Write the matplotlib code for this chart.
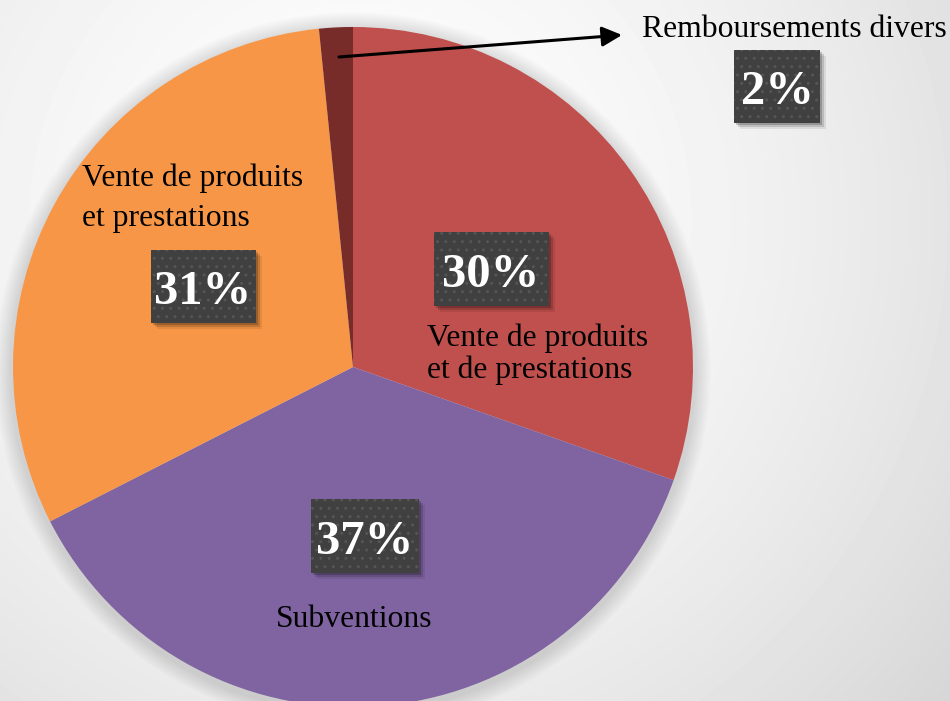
import numpy as np
import matplotlib.pyplot as plt
from matplotlib.patches import Rectangle, Circle

W, H = 950, 701

# shares (clockwise from 12 o'clock)
shares = [30.4, 37.1, 30.9, 1.6]
colors = ['#C0504D', '#8064A2', '#F79646', '#772C2A']
pct_labels = ['30%', '37%', '31%', '2%']
names = ['Vente de produits\net de prestations', 'Subventions',
         'Vente de produits\net prestations', 'Remboursements divers']

fig = plt.figure(figsize=(9.5, 7.01), dpi=100)
ax = fig.add_axes([0, 0, 1, 1])
ax.set_xlim(0, W)
ax.set_ylim(H, 0)
ax.axis('off')

# background gradient
yy, xx = np.mgrid[0:H, 0:W]
d = np.hypot(xx - 360, yy - 220) / 800
bg = np.clip(0.995 - 0.17 * d ** 1.7, 0, 1)
ax.imshow(bg, cmap='gray', vmin=0, vmax=1, extent=(0, W, H, 0), zorder=0)

cx, cy, r = 353, 367, 340

# soft shadow around the pie
for k in range(16):
    ax.add_patch(Circle((cx, cy + 3), r + 18 - k, color='black', alpha=0.009,
                        lw=0, zorder=1))

ax.pie(shares, colors=colors, startangle=-90, counterclock=True,
       center=(cx, cy), radius=r, frame=True,
       wedgeprops=dict(linewidth=0, zorder=2))
ax.set_xlim(0, W)
ax.set_ylim(H, 0)
ax.set_aspect('equal')
ax.axis('off')

font = 'Liberation Serif'

# percentage boxes: (center x, center y, width, height)
boxes = [(491, 269, 115, 74), (365, 536, 108, 74), (203, 286, 105, 73), (777, 86, 86, 73)]
for (bx, by, bw, bh), lab in zip(boxes, pct_labels):
    for off, a in [(6, 0.08), (4, 0.14), (2, 0.2)]:
        ax.add_patch(Rectangle((bx - bw / 2 + off, by - bh / 2 + off), bw, bh,
                               color='black', alpha=a, lw=0, zorder=5))
    ax.add_patch(Rectangle((bx - bw / 2, by - bh / 2), bw, bh, facecolor='#404040',
                           edgecolor='#555555', hatch='..', lw=0, zorder=6))
    ax.text(bx, by + 18, lab, color='white', fontsize=35, fontweight='bold',
            family=font, ha='center', va='baseline', zorder=7)

# category labels
ax.text(427, 346, 'Vente de produits', fontsize=22.8, family=font, va='baseline', zorder=8)
ax.text(427, 378, 'et de prestations', fontsize=22.8, family=font, va='baseline', zorder=8)
ax.text(82, 186, 'Vente de produits', fontsize=22.8, family=font, va='baseline', zorder=8)
ax.text(82, 226, 'et prestations', fontsize=22.8, family=font, va='baseline', zorder=8)
ax.text(354, 627, names[1], fontsize=22.8, family=font, ha='center', va='baseline', zorder=8)
ax.text(642, 37, names[3], fontsize=22.8, family=font, va='baseline', zorder=8)

ax.annotate('', xy=(622, 35), xytext=(339, 57),
            arrowprops=dict(arrowstyle='-|>', color='black', lw=2.2, mutation_scale=30,
                            shrinkA=0, shrinkB=0), zorder=9)

fig.savefig('out.png', dpi=100)
